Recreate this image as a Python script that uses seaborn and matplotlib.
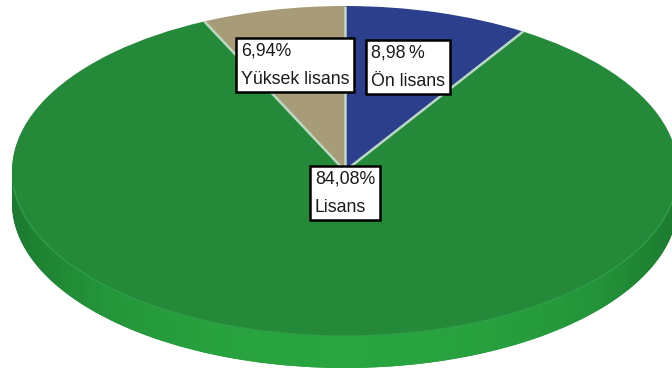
import numpy as np
import matplotlib
matplotlib.use("Agg")
import matplotlib.pyplot as plt
from matplotlib.patches import Polygon
import seaborn as sns

categories = ["Ön lisans", "Lisans", "Yüksek lisans"]
shares = [8.98, 84.08, 6.94]
share_labels = ["8,98\u2009%", "84,08%", "6,94%"]

sns.set_theme(style="white")
plt.rcParams["font.family"] = ["Liberation Sans", "DejaVu Sans"]
slice_colors = sns.color_palette(["#2b3f8c", "#248a3a", "#a89c78"])

WIDTH, HEIGHT = 672, 369
CX, CY, RX, RY = 345, 171, 333, 165
DEPTH = 32 / RY

fig = plt.figure(figsize=(WIDTH / 100, HEIGHT / 100), dpi=100)
ax = fig.add_axes([0, 0, 1, 1])


def pie_layer(offset, colors):
    return ax.pie(shares, colors=colors, center=(0, -offset), radius=1,
                  startangle=90, counterclock=False,
                  wedgeprops={"edgecolor": "none", "linewidth": 0})


# Rim of the disc: stacked copies of the pie, then a horizontal shading band
for off in np.linspace(DEPTH, 0.01, 24):
    pie_layer(off, ["#26993c"] * 3)

xlim = (-CX / RX, (WIDTH - CX) / RX)
ylim = ((CY - HEIGHT) / RY, CY / RY)

t = np.linspace(np.pi, 2 * np.pi, 240)
rim_outline = np.vstack([
    np.column_stack([np.cos(t), np.sin(t) - DEPTH]),
    np.column_stack([np.cos(t[::-1]), np.sin(t[::-1])]),
])
rim_clip = Polygon(rim_outline, closed=True, transform=ax.transData,
                   facecolor="none", edgecolor="none")
ax.add_patch(rim_clip)
shade = 1 - np.abs(np.linspace(-1, 1, 400)) ** 2.2
rim_cmap = sns.blend_palette(["#1c7a30", "#24953a", "#29a53f"], as_cmap=True)
band = ax.imshow(shade[np.newaxis, :], cmap=rim_cmap, vmin=0, vmax=1,
                 extent=(-1, 1, -1 - DEPTH, 0), aspect="auto", zorder=1.5)
band.set_clip_path(rim_clip)

# Top face
top_wedges, _ = pie_layer(0, slice_colors)
for w in top_wedges:
    w.set_zorder(2)

# Pale separators between slices, at the cumulative share angles
for cum in np.cumsum(shares):
    a = np.pi / 2 - 2 * np.pi * cum / 100
    ax.plot([0, np.cos(a)], [0, np.sin(a)], color="#bcd8c4", lw=1.8,
            zorder=3, solid_capstyle="butt")

# Faint highlight along the front edge of the top face
front = np.linspace(np.pi * 1.03, np.pi * 1.97, 200)
ax.plot(np.cos(front), np.sin(front), color="#2f9e48", lw=1, zorder=3)

ax.set_aspect("auto")
ax.set_xlim(*xlim)
ax.set_ylim(*ylim)
ax.axis("off")

# Value callouts, left edge and vertical middle in figure pixels
anchors = [(371, 67), (315, 193), (241, 65)]
for (px, py), pct, cat in zip(anchors, share_labels, categories):
    ax.text(px / WIDTH, 1 - py / HEIGHT, f"{pct}\n{cat}",
            transform=ax.transAxes, ha="left", va="center", fontsize=12.8,
            color="#1a1a1a", linespacing=1.85, zorder=5,
            bbox={"boxstyle": "square,pad=0.27", "facecolor": "white",
                  "edgecolor": "black", "linewidth": 1.8})

fig.savefig("out.png", dpi=100)
